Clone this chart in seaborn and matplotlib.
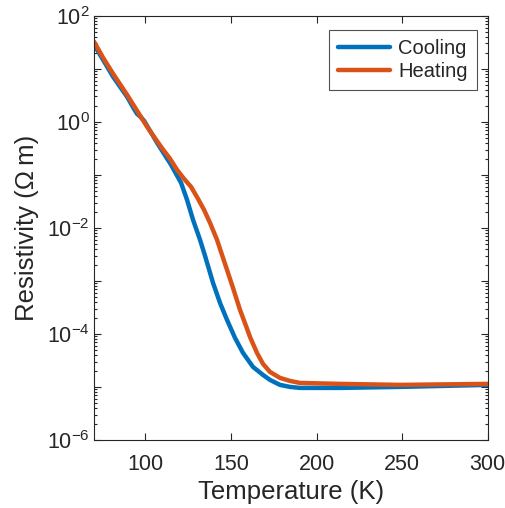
import numpy as np
import pandas as pd
import matplotlib
matplotlib.use("Agg")
import matplotlib.pyplot as plt
import matplotlib.ticker as mticker
import seaborn as sns

# values (temperature in K, log10 of resistivity in Ohm m)
cool_T = [70, 81.09, 89.26, 93.35, 95.09, 96.85, 99.19, 106.78, 114.95, 120.79,
          124.29, 127.79, 131.88, 134.80, 139.47, 143.55, 147.64, 152.31, 156.98,
          162.82, 168.66, 172.74, 178.58, 184.42, 190.26, 213.61, 248.63, 300]
cool_log = [1.453, 0.849, 0.472, 0.24, 0.15, 0.10, 0.02, -0.396, -0.811, -1.151,
            -1.472, -1.849, -2.226, -2.528, -3.038, -3.415, -3.736, -4.075, -4.358,
            -4.623, -4.774, -4.868, -4.962, -5.0, -5.019, -5.019, -5.0, -4.962]
heat_T = [70, 75.25, 81.09, 89.26, 95.10, 100.94, 109.11, 114.37, 118.45, 122.54,
          126.62, 130.71, 134.21, 137.72, 141.80, 147.64, 151.14, 155.23, 158.73,
          161.07, 165.15, 168.66, 172.74, 178.58, 184.42, 190.26, 213.61, 248.63, 300]
heat_log = [1.509, 1.208, 0.906, 0.509, 0.208, -0.094, -0.472, -0.698, -0.906, -1.075,
            -1.226, -1.453, -1.660, -1.906, -2.226, -2.792, -3.132, -3.547, -3.849,
            -4.057, -4.358, -4.566, -4.717, -4.830, -4.887, -4.925, -4.943, -4.962, -4.943]

x_ticks = [100, 150, 200, 250, 300]

df = pd.concat([
    pd.DataFrame({"T": cool_T, "rho": np.power(10.0, cool_log), "run": "Cooling"}),
    pd.DataFrame({"T": heat_T, "rho": np.power(10.0, heat_log), "run": "Heating"}),
])

sns.set_style("ticks")
plt.rcParams["font.family"] = ["Liberation Sans", "DejaVu Sans"]
plt.rcParams["axes.unicode_minus"] = False
dark = "#262626"

fig = plt.figure(figsize=(5.06, 5.08), dpi=100)
ax = fig.add_axes([0.186, 0.134, 0.778, 0.835])

sns.lineplot(data=df, x="T", y="rho", hue="run", sort=False, ax=ax,
             palette={"Cooling": "#0072BD", "Heating": "#D95319"},
             linewidth=3.2)

ax.set_yscale("log")
ax.set_xlim(70, 300)
ax.set_ylim(1e-6, 1e2)
ax.set_xticks(x_ticks)
ax.yaxis.set_major_locator(mticker.LogLocator(base=10, numticks=10, subs=(1.0,)))
ax.yaxis.set_minor_locator(mticker.LogLocator(base=10, subs=np.arange(2, 10), numticks=20))
ax.yaxis.set_major_formatter(mticker.FuncFormatter(
    lambda v, p: "$\\mathdefault{10^{%d}}$" % round(np.log10(v)) if int(round(np.log10(v))) % 2 == 0 else ""))
ax.yaxis.set_minor_formatter(mticker.NullFormatter())

for s in ax.spines.values():
    s.set_visible(True)
    s.set_color(dark)
    s.set_linewidth(0.8)
ax.tick_params(which="both", direction="in", top=True, right=True, colors=dark,
               labelsize=15.5, width=0.8)
ax.tick_params(which="major", length=5)
ax.tick_params(which="minor", length=2.5)
ax.tick_params(axis="x", pad=10)
ax.tick_params(axis="y", pad=3)

ax.set_xlabel("Temperature (K)", fontsize=18.5, color=dark, labelpad=4)
ax.set_ylabel("Resistivity (Ω\u2009m)", fontsize=18.5, color=dark, labelpad=6)

leg = ax.legend(loc="upper right", bbox_to_anchor=(0.972, 0.967), borderaxespad=0,
                fontsize=14.5, frameon=True, fancybox=False, edgecolor=dark,
                handlelength=2.6, borderpad=0.45, labelspacing=0.2, handletextpad=0.4)
leg.get_frame().set_linewidth(0.8)
for line in leg.get_lines():
    line.set_linewidth(3.2)

fig.savefig("out.png", dpi=100)
